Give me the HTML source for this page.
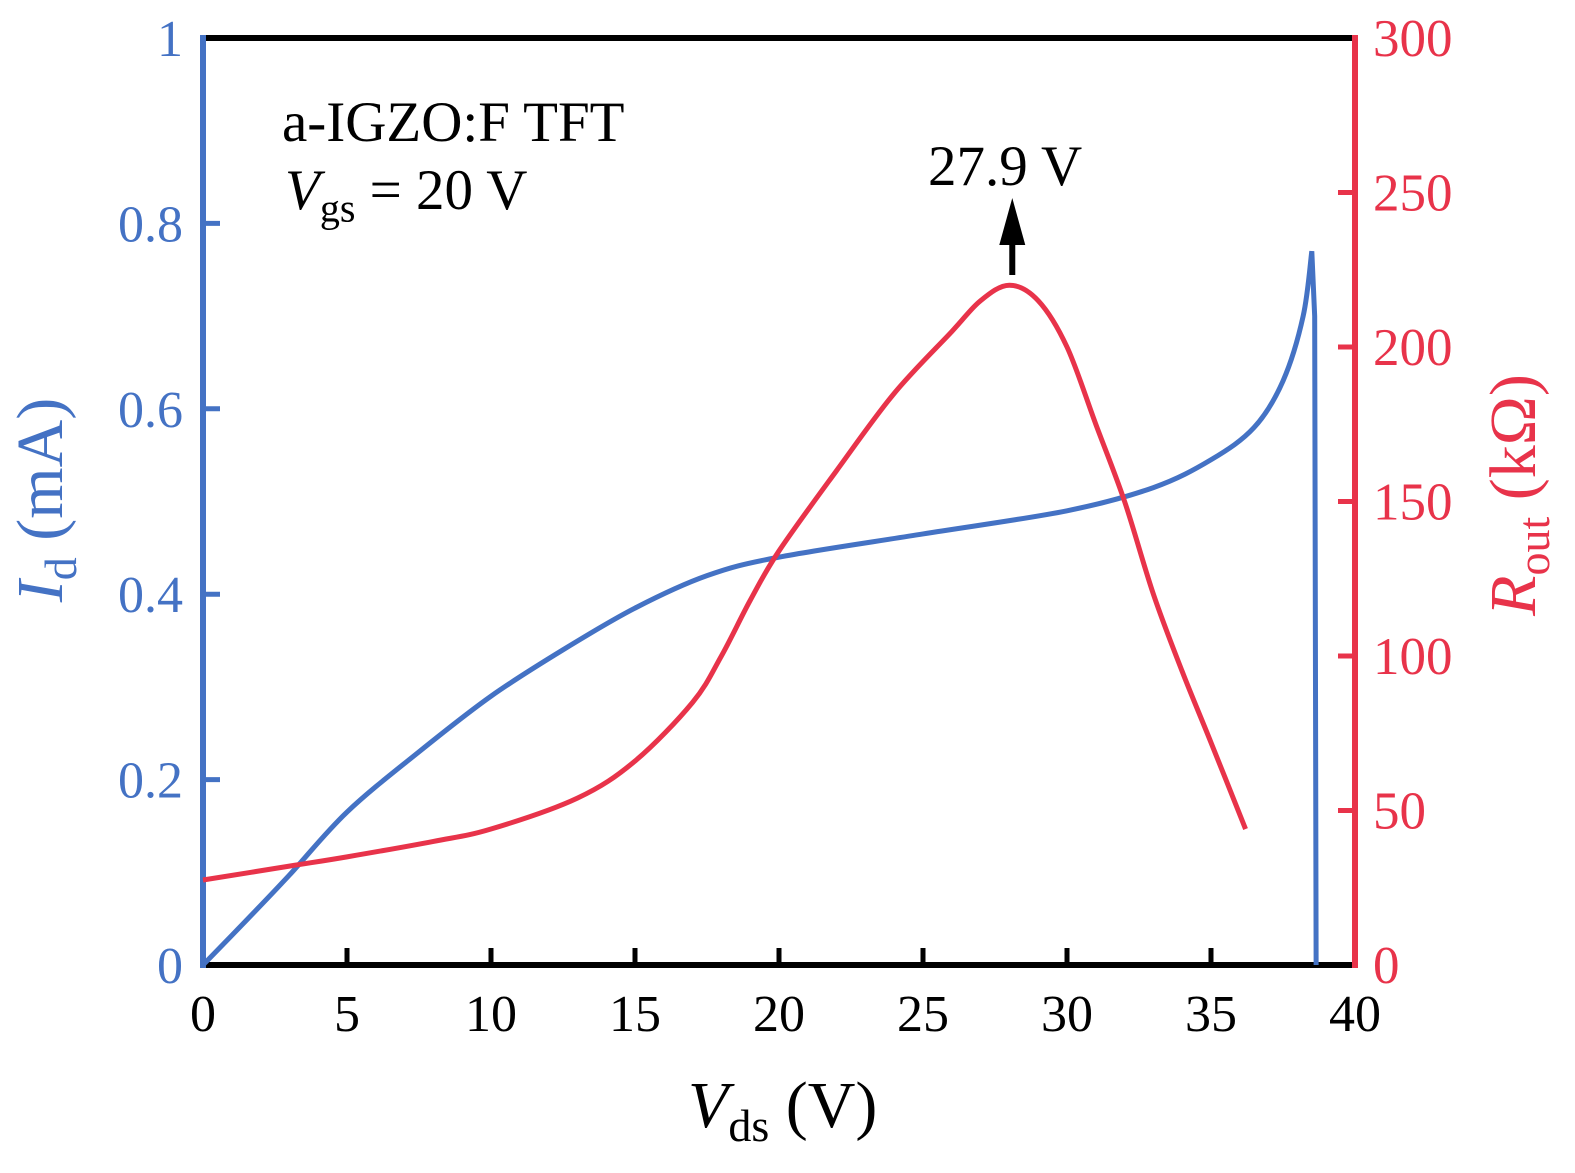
<!DOCTYPE html>
<html><head><meta charset="utf-8"><style>
body{margin:0;background:#fff}
svg{display:block;font-family:"Liberation Serif",serif}
</style></head><body>
<svg id="chart" width="1575" height="1173"></svg>
<script>
const xTicks=[0,5,10,15,20,25,30,35,40];
const yLeftTicks=[0,0.2,0.4,0.6,0.8,1];
const yLeftLabels=["0","0.2","0.4","0.6","0.8","1"];
const yRightTicks=[0,50,100,150,200,250,300];
const idX=[0,1.5,3,5,7.5,10,12.5,15,17.5,20,25,30,33,35,36.5,37.5,38.2,38.5];
const idY=[0,0.048,0.097,0.165,0.23,0.29,0.34,0.385,0.42,0.44,0.465,0.49,0.515,0.545,0.58,0.63,0.7,0.77];
const rX=[0,3,5,8,10,13,15,17,18,19,20,22,24,26,27,28,29,30,31,32,33,34,35,36.2];
const rY=[27.5,32,35,40,44,54,66,85,100,118,134,160,185,205,215,220,215,200,175,150,120,95,72,44];
const L=203,R=1355,T=38,B=965;
const sx=v=>L+(R-L)*v/40, syl=v=>B-(B-T)*v, syr=v=>B-(B-T)*v/300;
const NS="http://www.w3.org/2000/svg", svg=document.getElementById('chart');
function mk(t,a,p){const e=document.createElementNS(NS,t);for(const k in a)e.setAttribute(k,a[k]);(p||svg).appendChild(e);return e;}
function smooth(pts){let d=`M${pts[0][0]},${pts[0][1]}`;for(let i=0;i<pts.length-1;i++){const p0=pts[Math.max(0,i-1)],p1=pts[i],p2=pts[i+1],p3=pts[Math.min(pts.length-1,i+2)];d+=`C${p1[0]+(p2[0]-p0[0])/6},${p1[1]+(p2[1]-p0[1])/6} ${p2[0]-(p3[0]-p1[0])/6},${p2[1]-(p3[1]-p1[1])/6} ${p2[0]},${p2[1]}`;}return d;}
let e;
e=mk('line',{x1:L,y1:T,x2:R,y2:T,stroke:'#000','stroke-width':6});
e=mk('line',{x1:L,y1:B,x2:R,y2:B,stroke:'#000','stroke-width':6});
e=mk('line',{x1:L,y1:T-3,x2:L,y2:B+3,stroke:'#4472c4','stroke-width':6});
e=mk('line',{x1:R,y1:T-3,x2:R,y2:B+3,stroke:'#e8334a','stroke-width':6});
xTicks.forEach(v=>{const x=sx(v);
 if(v>0&&v<40){e=mk('line',{x1:x,y1:B,x2:x,y2:B-17,stroke:'#000','stroke-width':5});}
 e=mk('text',{x:x,y:B+66,'font-size':52,'text-anchor':'middle',fill:'#000'});e.textContent=v;});
yLeftTicks.forEach((v,i)=>{const y=syl(v);
 if(v>0&&v<1){e=mk('line',{x1:L,y1:y,x2:L+17,y2:y,stroke:'#4472c4','stroke-width':5});}
 e=mk('text',{x:183,y:y+18,'font-size':52,'text-anchor':'end',fill:'#4472c4'});e.textContent=yLeftLabels[i];});
yRightTicks.forEach(v=>{const y=syr(v);
 if(v>0&&v<300){e=mk('line',{x1:R,y1:y,x2:R-17,y2:y,stroke:'#e8334a','stroke-width':5});}
 e=mk('text',{x:1373,y:y+18,'font-size':53,fill:'#e8334a'});e.textContent=v;});
const ip=idX.map((x,i)=>[sx(x),syl(idY[i])]);
e=mk('path',{d:smooth(ip)+`L${sx(38.6)},${syl(0.7)}L${sx(38.65)},${B}`,fill:'none',stroke:'#4472c4','stroke-width':5});
const rp=rX.map((x,i)=>[sx(x),syr(rY[i])]);
e=mk('path',{d:smooth(rp),fill:'none',stroke:'#e8334a','stroke-width':5});
const ax=sx(28.1);
e=mk('line',{x1:ax,y1:275,x2:ax,y2:235,stroke:'#000','stroke-width':6});
e=mk('polygon',{points:`${ax-13},245 ${ax+13},245 ${ax},198`,fill:'#000'});
</script>
<div style="position:absolute;left:0;top:0;width:1575px;height:1173px;font-family:'Liberation Serif',serif;pointer-events:none">
<div style="position:absolute;left:928px;top:134px;font-size:57px">27.9 V</div>
<div style="position:absolute;left:282px;top:90px;font-size:57px">a-IGZO:F TFT</div>
<div style="position:absolute;left:285px;top:158px;font-size:57px"><i>V</i><sub style="font-size:40px">gs</sub> = 20 V</div>
<div style="position:absolute;left:688px;top:1068px;font-size:66px"><i>V</i><sub style="font-size:46px">ds</sub> (V)</div>
<div style="position:absolute;left:45px;top:500px;font-size:66px;color:#4472c4;transform:translate(-50%,-50%) rotate(-90deg);white-space:nowrap"><i>I</i><sub style="font-size:46px">d</sub> (mA)</div>
<div style="position:absolute;left:1518px;top:495px;font-size:66px;color:#e8334a;transform:translate(-50%,-50%) rotate(-90deg);white-space:nowrap"><i>R</i><sub style="font-size:46px">out</sub> (kΩ)</div>
</div>
</body></html>
